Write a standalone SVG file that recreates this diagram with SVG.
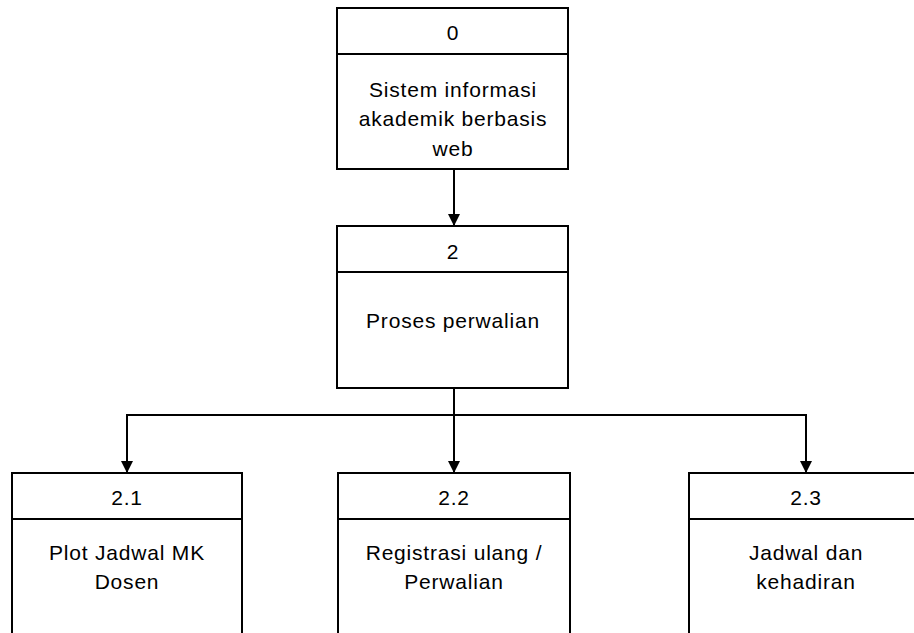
<svg xmlns="http://www.w3.org/2000/svg" width="914" height="633" viewBox="0 0 914 633">
  <style>
    .box { fill: #ffffff; stroke: #000000; stroke-width: 2; }
    .div { stroke: #000000; stroke-width: 2; }
    .wire { fill: none; stroke: #000000; stroke-width: 2; }
    text { font-family: "Liberation Sans", Arial, sans-serif; font-size: 21px; fill: #000000; text-anchor: middle; letter-spacing: 0.8px; }
  </style>
  <defs>
    <marker id="arrow" markerWidth="12" markerHeight="12" refX="12" refY="6" orient="auto" markerUnits="userSpaceOnUse">
      <path d="M0,0 L12,6 L0,12 Z" fill="#000000"/>
    </marker>
  </defs>
  <rect width="914" height="633" fill="#ffffff"/>

  <!-- connectors -->
  <g id="connectors">
    <line class="wire" x1="454" y1="169" x2="454" y2="226" marker-end="url(#arrow)"/>
    <line class="wire" x1="454" y1="388" x2="454" y2="473" marker-end="url(#arrow)"/>
    <line class="wire" x1="126" y1="415" x2="806" y2="415"/>
    <line class="wire" x1="127" y1="414" x2="127" y2="473" marker-end="url(#arrow)"/>
    <line class="wire" x1="806" y1="414" x2="806" y2="473" marker-end="url(#arrow)"/>
  </g>

  <!-- level 0 -->
  <g id="node-0">
    <rect class="box" x="337" y="8" width="231" height="161"/>
    <line class="div" x1="337" y1="54" x2="568" y2="54"/>
    <text x="453" y="40">0</text>
    <text x="453" y="97">Sistem informasi</text>
    <text x="453" y="126">akademik berbasis</text>
    <text x="453" y="156">web</text>
  </g>

  <!-- level 2 -->
  <g id="node-2">
    <rect class="box" x="337" y="226" width="231" height="162"/>
    <line class="div" x1="337" y1="272" x2="568" y2="272"/>
    <text x="453" y="259">2</text>
    <text x="453" y="328">Proses perwalian</text>
  </g>

  <!-- sub-processes -->
  <g id="node-2-1">
    <rect class="box" x="12" y="473" width="230" height="180"/>
    <line class="div" x1="12" y1="519" x2="242" y2="519"/>
    <text x="127" y="505">2.1</text>
    <text x="127" y="560">Plot Jadwal MK</text>
    <text x="127" y="589">Dosen</text>
  </g>

  <g id="node-2-2">
    <rect class="box" x="338" y="473" width="232" height="180"/>
    <line class="div" x1="338" y1="519" x2="570" y2="519"/>
    <text x="454" y="505">2.2</text>
    <text x="454" y="560">Registrasi ulang /</text>
    <text x="454" y="589">Perwalian</text>
  </g>

  <g id="node-2-3">
    <rect class="box" x="689" y="473" width="240" height="180"/>
    <line class="div" x1="689" y1="519" x2="929" y2="519"/>
    <text x="806" y="505">2.3</text>
    <text x="806" y="560">Jadwal dan</text>
    <text x="806" y="589">kehadiran</text>
  </g>
</svg>
